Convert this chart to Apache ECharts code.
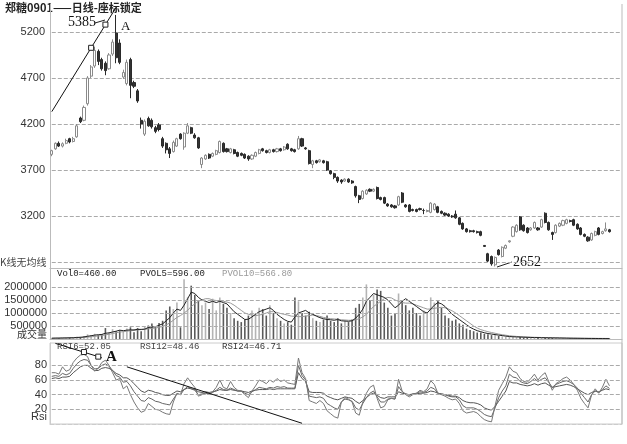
<!DOCTYPE html>
<html><head><meta charset="utf-8">
<script src="https://cdn.jsdelivr.net/npm/echarts@6/dist/echarts.min.js"></script>
<style>html,body{margin:0;padding:0;background:#fff}#c{width:627px;height:444px}</style>
</head><body><div id="c"></div>
<script>
// [open, close, low, high]
const ohlc = [
[3870,3910,3850,3920],[3930,3990,3920,4000],[3990,3960,3950,4010],[3960,3985,3945,4000],[3990,4020,3980,4040],
[4040,4005,3990,4050],[4010,4040,4000,4060],[4060,4180,4050,4200],[4265,4225,4210,4280],[4240,4380,4230,4400],
[4420,4700,4400,4720],[4720,4820,4700,4840],[4830,5000,4810,5040],[4990,4880,4840,5010],[4900,4800,4780,4920],
[4860,4780,4730,4880],[4800,4950,4790,4970],[4960,5090,4940,5120],[5190,4920,4860,5385],[5080,4870,4850,5120],
[4710,4760,4690,4790],[4640,4870,4620,4900],[4900,4620,4480,4920],[4650,4610,4590,4670],[4560,4450,4430,4580],
[4240,4200,4150,4270],[4090,4230,4070,4250],[4260,4180,4170,4280],[4240,4170,4150,4260],[4160,4120,4100,4180],
[4190,4140,4120,4210],[4040,3960,3940,4060],[3990,3920,3880,4000],[3930,3880,3830,3950],[3900,4000,3890,4020],
[3960,4040,3950,4050],[4090,4040,4030,4100],[3950,4100,3920,4110],[4100,4180,4090,4210],[4160,4100,4090,4170],
[4080,4050,4040,4100],[4050,3940,3930,4060],[3760,3830,3720,3840],[3820,3860,3810,3870],[3870,3830,3820,3880],
[3850,3880,3840,3890],[3870,3910,3860,3920],[3890,4010,3880,4020],[3990,3900,3890,4000],[3930,3900,3890,3940],
[3890,3930,3880,3940],[3920,3880,3870,3930],[3890,3850,3840,3900],[3880,3860,3850,3890],[3870,3830,3820,3880],
[3850,3820,3800,3860],[3820,3860,3810,3870],[3850,3890,3840,3900],[3880,3920,3870,3930],[3930,3910,3900,3940],
[3910,3890,3880,3920],[3890,3920,3880,3930],[3920,3900,3890,3930],[3900,3930,3890,3940],[3930,3910,3900,3940],
[3920,3950,3910,3960],[3980,3930,3920,3990],[3930,3910,3900,3940],[3920,3900,3890,3930],[3930,4040,3920,4070],
[4040,3960,3950,4050],[3940,3930,3920,3950],[3910,3770,3760,3920],[3760,3800,3720,3810],[3800,3780,3770,3810],
[3790,3810,3780,3820],[3800,3780,3770,3810],[3790,3700,3690,3800],[3690,3660,3650,3700],[3660,3620,3600,3670],
[3620,3580,3560,3630],[3590,3570,3550,3600],[3580,3600,3570,3610],[3600,3570,3560,3610],[3580,3560,3550,3590],
[3520,3420,3400,3530],[3420,3380,3340,3430],[3390,3470,3380,3480],[3440,3480,3430,3490],[3490,3470,3460,3500],
[3470,3490,3460,3500],[3510,3390,3380,3520],[3400,3380,3370,3410],[3400,3340,3330,3410],[3330,3310,3300,3340],
[3320,3300,3290,3330],[3310,3290,3280,3320],[3320,3410,3310,3420],[3450,3350,3340,3460],[3320,3300,3290,3330],
[3320,3250,3240,3330],[3270,3260,3250,3280],[3270,3250,3240,3280],[3280,3270,3260,3290],[3260,3260,3220,3280],
[3250,3260,3240,3270],[3240,3340,3230,3350],[3270,3330,3260,3340],[3300,3240,3230,3310],[3250,3230,3220,3260],
[3230,3210,3200,3240],[3220,3200,3190,3230],[3200,3190,3180,3210],[3220,3180,3170,3260],[3180,3110,3100,3190],
[3120,3060,3050,3130],[3060,3030,3020,3070],[3040,3030,3020,3050],[3040,3030,3020,3050],[3030,3020,3010,3040],
[3030,2990,2980,3040],[2880,2870,2865,2885],[2790,2710,2700,2800],[2760,2680,2660,2770],[2670,2750,2652,2760],
[2830,2780,2770,2840],[2760,2860,2750,2870],[2850,2880,2840,2890],[2920,2930,2910,2935],[2980,3080,2970,3090],
[3030,3100,3020,3110],[3190,3050,3040,3200],[3100,3040,3030,3110],[3070,3020,3010,3080],[3050,3070,3040,3080],
[3070,3130,3060,3140],[3070,3050,3040,3080],[3080,3160,3070,3170],[3230,3130,3120,3240],[3130,3050,3040,3140],
[3020,3000,2940,3030],[3020,3100,3010,3110],[3090,3120,3080,3130],[3100,3150,3090,3160],[3120,3160,3110,3170],
[3150,3140,3130,3160],[3160,3100,3090,3170],[3110,3060,3050,3120],[3070,3000,2990,3080],[3000,2980,2970,3010],
[2970,2930,2920,2980],[2940,3010,2930,3020],[2990,3030,2980,3040],[3070,3000,2990,3080],[3010,3030,3000,3040],
[3040,3060,3030,3130],[3050,3030,3020,3060]
];
const volume = [
30000,40000,35000,50000,45000,60000,55000,90000,80000,120000,180000,150000,200000,
150000,180000,420000,250000,380000,300000,340000,280000,400000,450000,260000,420000,
300000,480000,520000,600000,450000,620000,700000,1100000,1250000,1150000,1400000,450000,
2300000,1600000,2050000,1700000,1500000,1300000,1400000,1150000,1550000,1100000,1600000,1350000,
1200000,1000000,800000,700000,650000,750000,900000,1100000,1000000,1200000,1150000,900000,
1300000,1000000,800000,700000,600000,650000,550000,1600000,1450000,1000000,900000,1050000,
800000,700000,650000,750000,900000,700000,650000,800000,600000,700000,650000,750000,
1200000,1350000,1600000,2100000,1500000,1700000,1900000,1850000,1400000,1200000,900000,1000000,
1750000,1500000,1300000,1100000,1200000,1000000,900000,1100000,1000000,1600000,1400000,1500000,
1200000,900000,800000,700000,750000,600000,550000,400000,350000,300000,250000,250000,
200000,180000,150000,200000,120000,100000,90000,80000,85000,70000,75000,60000,
65000,55000,50000,60000,45000,50000,40000,45000,35000,40000,30000,35000,
30000,25000,28000,22000,25000,20000,18000,22000,15000,18000,12000,15000
];
const pvol5 = [
30000,35000,35000,40000,42000,46000,49000,60000,66000,80000,105000,125000,150000,
165000,175000,220000,235000,270000,300000,340000,320000,340000,350000,350000,370000,
370000,380000,440000,460000,470000,530000,580000,700000,820000,1000000,1150000,1100000,
1300000,1550000,1800000,1750000,1600000,1500000,1450000,1400000,1450000,1400000,1450000,1400000,
1350000,1200000,1050000,950000,850000,750000,760000,850000,950000,1050000,1100000,1150000,
1200000,1100000,950000,850000,750000,680000,650000,850000,1000000,1050000,1100000,1000000,
950000,880000,820000,780000,750000,740000,720000,750000,700000,690000,680000,700000,
800000,950000,1150000,1450000,1600000,1750000,1700000,1650000,1600000,1500000,1350000,1200000,
1300000,1450000,1550000,1450000,1350000,1250000,1150000,1050000,1000000,1150000,1300000,1400000,
1350000,1250000,1100000,950000,850000,750000,650000,550000,450000,380000,320000,280000,
240000,210000,190000,170000,150000,130000,110000,95000,85000,80000,75000,70000,
65000,60000,55000,55000,50000,48000,45000,42000,40000,38000,35000,33000,
30000,28000,27000,25000,24000,22000,21000,20000,18000,17000,16000,15000
];
const pvol10 = [
28000,30000,32000,34000,36000,38000,40000,45000,50000,58000,70000,85000,100000,
115000,130000,160000,180000,210000,240000,270000,280000,300000,320000,330000,350000,
360000,370000,390000,410000,420000,450000,480000,540000,620000,720000,830000,900000,
1000000,1100000,1250000,1350000,1450000,1500000,1550000,1550000,1500000,1480000,1480000,1450000,
1420000,1380000,1300000,1200000,1100000,1000000,950000,920000,900000,920000,950000,1000000,
1050000,1050000,1020000,980000,950000,920000,880000,870000,860000,860000,880000,900000,
920000,900000,870000,830000,800000,780000,770000,760000,740000,730000,720000,720000,
740000,780000,850000,950000,1100000,1250000,1350000,1450000,1550000,1600000,1580000,1500000,
1450000,1400000,1380000,1380000,1350000,1300000,1250000,1200000,1150000,1150000,1180000,1200000,
1220000,1200000,1150000,1080000,1000000,900000,800000,700000,600000,500000,420000,360000,
320000,280000,250000,220000,190000,165000,145000,125000,110000,100000,90000,80000,
75000,70000,66000,62000,58000,55000,52000,49000,46000,43000,40000,38000,
36000,34000,32000,30000,28000,27000,26000,25000,24000,23000,22000,21000
];
const rsi6 = [
70,70,68,78,72,74,84,90,94,95,92,80,72,
76,84,87,80,70,60,62,48,52,40,30,22,
16,18,28,24,20,19,16,14,13,30,42,40,
55,63,56,50,38,40,42,40,44,50,60,50,
48,58,50,46,45,40,36,45,52,60,58,55,
60,57,62,58,60,56,55,54,90,70,62,32,
30,28,32,28,18,14,10,8,30,36,34,30,
15,12,30,42,50,53,35,22,24,33,35,34,
61,45,40,37,40,42,46,44,48,59,54,42,
40,38,35,33,34,28,18,15,16,17,15,10,
6,4,3,25,46,55,64,78,72,70,62,58,
57,62,68,60,66,70,58,46,55,58,62,64,
60,54,46,35,28,22,40,48,42,50,61,52.05
];
const rsi12 = [
65,66,65,69,67,69,76,82,86,88,87,80,75,
76,80,82,79,73,66,64,57,58,52,44,38,
32,31,36,34,31,30,28,27,26,34,41,40,
47,51,48,46,40,41,42,41,43,46,50,47,
46,49,47,45,45,42,40,44,47,50,49,48,
50,49,51,50,51,49,49,49,80,66,60,38,
37,36,37,35,28,25,22,20,30,34,33,31,
22,19,28,36,42,45,37,30,30,34,35,34,
51,44,41,39,41,42,44,43,45,50,48,42,
41,40,38,37,37,33,25,22,22,22,20,17,
13,11,10,22,36,45,52,68,64,63,58,56,
55,58,62,58,61,63,57,50,54,56,58,59,
57,54,49,42,36,30,40,45,43,47,52,48.46
];
const rsi24 = [
62,63,62,64,64,65,70,74,78,80,80,76,73,
73,76,77,76,73,69,67,63,63,60,55,50,
45,43,46,45,43,42,40,39,39,42,45,44,
47,49,48,47,44,43,44,43,44,45,47,46,
46,47,46,45,45,44,43,45,46,47,47,47,
48,47,48,48,48,48,48,48,70,62,58,44,
43,43,43,42,38,36,34,33,35,37,36,35,
31,28,32,36,40,42,39,36,35,37,37,37,
44,42,41,40,41,41,42,42,43,45,44,42,
41,40,39,38,38,36,32,30,29,29,28,26,
22,20,19,24,31,38,45,58,56,56,54,53,
52,53,55,53,55,56,53,50,51,52,53,54,
53,51,48,45,42,40,43,45,44,46,48,46.71
];
const days = Array.from({length:160}, (_, i) => 'D' + (i + 1));
const priceTicks = [3200, 3700, 4200, 4700, 5200];
const priceGrid = [2700, 3200, 3700, 4200, 4700, 5200];
const volTicks = [500000, 1000000, 1500000, 2000000];
const rsiTicks = [20, 40, 60, 80];

const trendStyle = {color:'#111', type:'solid', width:1};
const gridStyle = {color:'#aaa', type:'dashed', width:1};
const first = days[0], last = days[days.length - 1];
const gl = vals => vals.map(v => [{coord:[first, v], lineStyle:gridStyle}, {coord:[last, v], lineStyle:gridStyle}]);
const boxStyle = {color:'#fff', borderColor:'#222', borderWidth:1};
const lblFont = {color:'#333', fontSize:11, fontFamily:'Liberation Sans', formatter: v => String(v)};

const chart = echarts.init(document.getElementById('c'), null, {renderer:'canvas'});
const xa = g => ({type:'category', gridIndex:g, data:days, boundaryGap:true,
  axisLabel:{show:false}, axisTick:{show:false}, splitLine:{show:false},
  axisLine:{show:true, lineStyle: g === 2 ? {color:'#ccc', type:'dashed'} : {color:'#bbb'}}});
chart.setOption({
  animation:false,
  backgroundColor:'#fff',
  grid:[
    {left:50, top:4, width:572, height:264},
    {left:50, top:268, width:572, height:71},
    {left:50, top:343, width:572, height:81, show:true, borderColor:'#ccc', borderWidth:1}
  ],
  xAxis:[xa(0), xa(1), xa(2)],
  yAxis:[
    {type:'value', gridIndex:0, min:2635, max:5504, splitLine:{show:false}, axisTick:{show:false},
     axisLine:{show:true, lineStyle:{color:'#bbb'}},
     axisLabel:Object.assign({customValues:priceTicks, margin:5}, lblFont)},
    {type:'value', gridIndex:1, min:0, max:2730000, splitLine:{show:false}, axisTick:{show:false},
     axisLine:{show:true, lineStyle:{color:'#bbb'}},
     axisLabel:Object.assign({customValues:volTicks, margin:3}, lblFont)},
    {type:'value', gridIndex:2, min:0, max:110.5, splitLine:{show:false}, axisTick:{show:false},
     axisLine:{show:true, lineStyle:{color:'#ccc'}},
     axisLabel:Object.assign({customValues:rsiTicks, margin:3}, lblFont)}
  ],
  series:[
    {type:'candlestick', xAxisIndex:0, yAxisIndex:0, data:ohlc, barWidth:2.6, z:3,
     itemStyle:{color:'#fff', borderColor:'#8a8a8a', color0:'#333', borderColor0:'#2a2a2a', borderWidth:1},
     markLine:{silent:true, symbol:['none','none'], label:{show:false}, animation:false, z:1,
       data: gl(priceGrid).concat([[{coord:[days[0],4334], lineStyle:trendStyle},{coord:[days[18],5468], lineStyle:trendStyle}]])},
     markPoint:{silent:true, symbol:'rect', symbolSize:5, label:{show:false}, itemStyle:boxStyle,
       data:[{coord:[days[11],5028]},{coord:[days[15],5280]}]}
    },
    {type:'bar', xAxisIndex:1, yAxisIndex:1, data:volume, barWidth:1.6,
     itemStyle:{color: p => ohlc[p.dataIndex][1] >= ohlc[p.dataIndex][0] ? '#b4b4b4' : '#5a5a5a'},
     markLine:{silent:true, symbol:['none','none'], label:{show:false}, animation:false, data: gl(volTicks)}
    },
    {type:'line', xAxisIndex:1, yAxisIndex:1, data:pvol10, symbol:'none', lineStyle:{color:'#9a9a9a', width:1}},
    {type:'line', xAxisIndex:1, yAxisIndex:1, data:pvol5, symbol:'none', lineStyle:{color:'#222', width:1}},
    {type:'line', xAxisIndex:2, yAxisIndex:2, data:rsi24, symbol:'none', lineStyle:{color:'#555', width:1}},
    {type:'line', xAxisIndex:2, yAxisIndex:2, data:rsi12, symbol:'none', lineStyle:{color:'#666', width:1}},
    {type:'line', xAxisIndex:2, yAxisIndex:2, data:rsi6, symbol:'none', lineStyle:{color:'#777', width:1},
     markLine:{silent:true, symbol:['none','none'], label:{show:false}, animation:false,
       data: gl(rsiTicks).concat([
         [{coord:[days[1],110], lineStyle:trendStyle},{coord:[days[14],90.4], lineStyle:trendStyle}],
         [{coord:[days[21],78], lineStyle:trendStyle},{coord:[days[70],1], lineStyle:trendStyle}]
       ])},
     markPoint:{silent:true, symbol:'rect', symbolSize:5, label:{show:false}, itemStyle:boxStyle,
       data:[{coord:[days[9],98.2]},{coord:[days[13],91.9]}]}
    }
  ],
  graphic:[
    {type:'text', left:5, top:2, style:{text:'郑糖0901——日线-座标锁定', font:'bold 11px "Noto Sans CJK SC"', fill:'#222'}},
    {type:'text', left:68, top:15, style:{text:'5385', font:'14px "Liberation Serif"', fill:'#111'}},
    {type:'line', shape:{x1:95, y1:23, x2:105, y2:20}, style:{stroke:'#222', lineWidth:1}},
    {type:'text', left:121, top:20, style:{text:'A', font:'13px "Liberation Serif"', fill:'#111'}},
    {type:'text', left:513, top:255, style:{text:'2652', font:'14px "Liberation Serif"', fill:'#111'}},
    {type:'line', shape:{x1:497, y1:267, x2:512, y2:262}, style:{stroke:'#222', lineWidth:1}},
    {type:'text', left:0, top:257, style:{text:'K线无均线', font:'10px "Noto Sans CJK SC"', fill:'#444'}},
    {type:'text', left:57, top:269, style:{text:'Vol0=460.00', font:'9px "Liberation Mono"', fill:'#222'}},
    {type:'text', left:140, top:269, style:{text:'PVOL5=596.00', font:'9px "Liberation Mono"', fill:'#222'}},
    {type:'text', left:222, top:269, style:{text:'PVOL10=566.80', font:'9px "Liberation Mono"', fill:'#999'}},
    {type:'text', right:580, top:329, style:{text:'成交量', font:'10px "Noto Sans CJK SC"', fill:'#333'}},
    {type:'text', left:57, top:342, style:{text:'RSI6=52.05', font:'9px "Liberation Mono"', fill:'#444'}},
    {type:'text', left:140, top:342, style:{text:'RSI12=48.46', font:'9px "Liberation Mono"', fill:'#444'}},
    {type:'text', left:222, top:342, style:{text:'RSI24=46.71', font:'9px "Liberation Mono"', fill:'#333'}},
    {type:'text', left:106, top:350, style:{text:'A', font:'bold 15px "Liberation Serif"', fill:'#111'}},
    {type:'text', right:580, top:411, style:{text:'Rsi', font:'11px "Liberation Sans"', fill:'#333'}},
    {type:'line', shape:{x1:622, y1:4, x2:622, y2:424}, style:{stroke:'#bbb', lineWidth:1}}
  ]
});
</script></body></html>
